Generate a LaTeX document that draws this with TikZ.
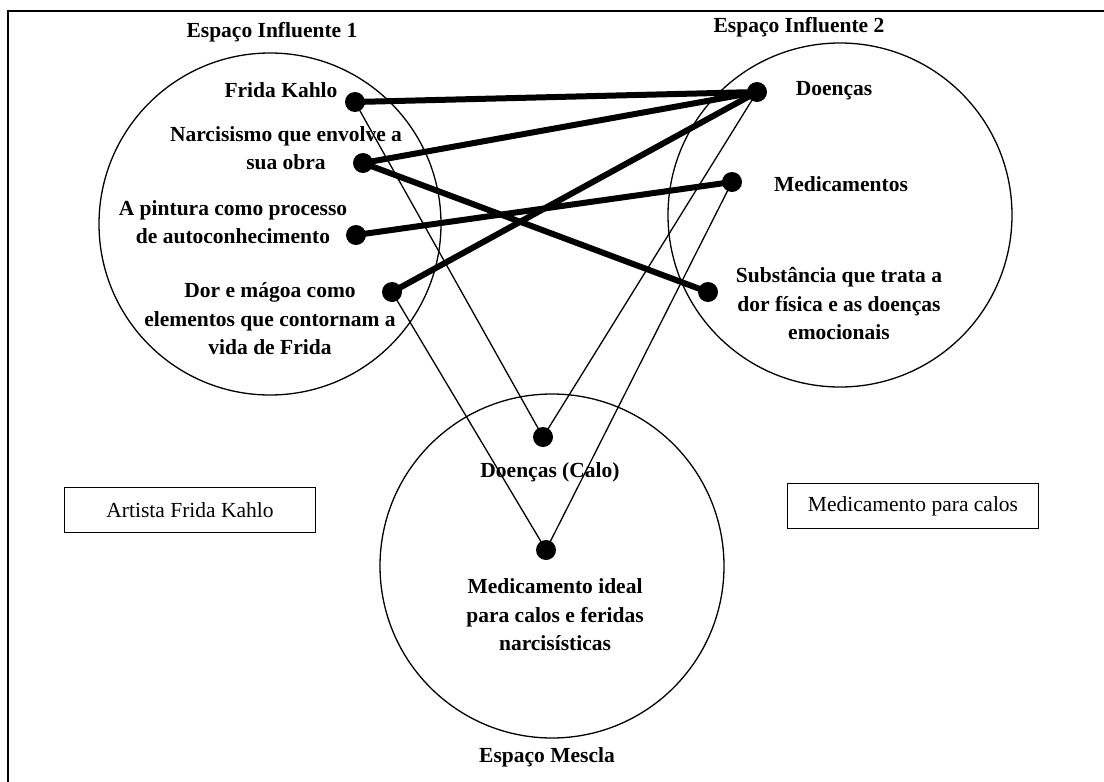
\documentclass[tikz,border=0pt]{standalone}
\usepackage{fontspec}
\setmainfont{Liberation Serif}
\begin{document}
\begin{tikzpicture}[x=1pt,y=-1pt,
  lbl/.style={font=\fontsize{21.5}{28.5}\selectfont\bfseries, align=center, inner sep=0pt},
  space/.style={draw, line width=1.3pt, circle, inner sep=0pt},
  dot/.style={circle, fill=black, minimum size=20pt, inner sep=0pt},
  strong/.style={line width=6pt},
  weak/.style={line width=1.3pt},
  tag/.style={draw, line width=1.6pt, minimum width=251pt, minimum height=45pt, inner sep=0pt, font=\fontsize{21.5}{26}\selectfont}
]
\useasboundingbox (0,0) rectangle (1104,782);
% frame
\draw[line width=1.6pt] (8,782) -- (8,11) -- (1104,11);

% the three spaces
\node[space, minimum size=342pt] (c1) at (270,224) {};
\node[space, minimum size=344pt] (c2) at (840,215) {};
\node[space, minimum size=344pt] (c3) at (552,566) {};

\node[lbl] (t1) at (272,32) {Espaço Influente 1};
\node[lbl] (t2) at (799,27) {Espaço Influente 2};
\node[lbl] (t3) at (547,757) {Espaço Mescla};

% input space 1
\node[lbl] (l1) at (281,90) {Frida Kahlo};
\node[lbl] (l2) at (286,148) {Narcisismo que envolve a\\sua obra};
\node[lbl] (l3) at (233,222) {A pintura como processo\\de autoconhecimento};
\node[lbl] (l4) at (270,319) {Dor e mágoa como\\elementos que contornam a\\vida de Frida};

% input space 2
\node[lbl] (r1) at (834,91) {Doenças};
\node[lbl] (r2) at (841,184) {Medicamentos};
\node[lbl] (r3) at (839,304) {Substância que trata a\\dor física e as doenças\\emocionais};

% blend
\node[lbl] (m1) at (550,472) {Doenças (Calo)};
\node[lbl] (m2) at (555,615) {Medicamento ideal\\para calos e feridas\\narcisísticas};

% frames
\node[tag] (b1) at (190,510) {Artista Frida Kahlo};
\node[tag] (b2) at (913,506) {Medicamento para calos};

% dots
\node[dot] (a1) at (355,102) {};
\node[dot] (a2) at (363,163) {};
\node[dot] (a3) at (356,235) {};
\node[dot] (a4) at (392,292) {};
\node[dot] (d1) at (757,92) {};
\node[dot] (d2) at (732,182) {};
\node[dot] (d3) at (708,292) {};
\node[dot] (e1) at (543,437) {};
\node[dot] (e2) at (546,550) {};

% cross-space mappings
\draw[strong] (a1.center) -- (d1.center);
\draw[strong] (a2.center) -- (d1.center);
\draw[strong] (a2.center) -- (d3.center);
\draw[strong] (a3.center) -- (d2.center);
\draw[strong] (a4.center) -- (d1.center);

% projections to the blend
\draw[weak] (a1.center) -- (e1.center);
\draw[weak] (d1.center) -- (e1.center);
\draw[weak] (a4.center) -- (e2.center);
\draw[weak] (d2.center) -- (e2.center);
\end{tikzpicture}
\end{document}
